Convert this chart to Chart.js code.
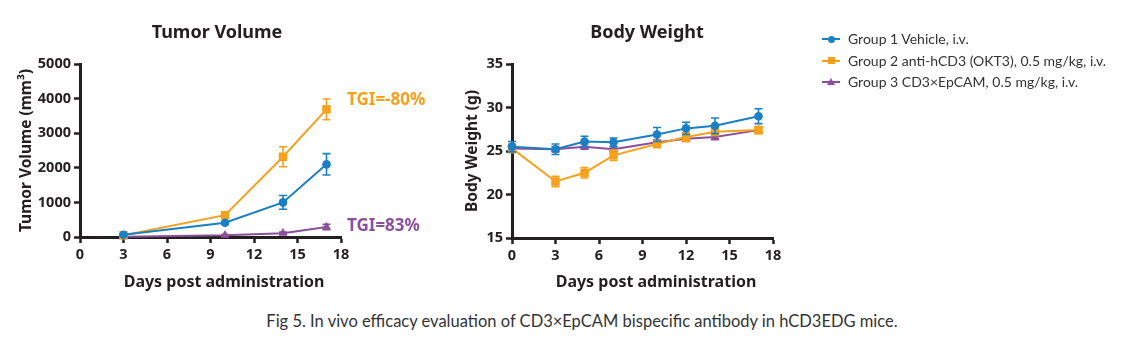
<!DOCTYPE html>
<html>
<head>
<meta charset="utf-8">
<script src="https://cdn.jsdelivr.net/npm/chart.js@4.4.0/dist/chart.umd.min.js"></script>
<style>
  body { margin: 0; background: #fff; }
  #wrap { position: relative; width: 1123px; height: 350px; font-family: "Noto Sans", sans-serif; color: #231f20; }
  canvas { position: absolute; top: 0; }
  .ttl { position: absolute; font-weight: bold; font-size: 18px; transform: translate(-50%, -50%); white-space: nowrap; }
  .xt { position: absolute; font-weight: bold; font-size: 16px; transform: translate(-50%, -50%); white-space: nowrap; }
  .leg { position: absolute; left: 822px; height: 20px; font-family: Lato, sans-serif; font-size: 14px; color: #333; white-space: nowrap; }
  .leg .ln { position: absolute; left: 0; top: 9px; width: 18px; height: 2px; }
  .leg .mk { position: absolute; }
  .leg .tx { position: absolute; left: 26px; top: 0; line-height: 20px; }
  #cap { position: absolute; left: 582px; top: 321px; transform: translate(-50%, -50%); font-family: Lato, sans-serif; font-size: 16.5px; color: #333; white-space: nowrap; }
</style>
</head>
<body>
<div id="wrap">
  <canvas id="tumor" width="440" height="300" style="left:0"></canvas>
  <canvas id="weight" width="360" height="300" style="left:440px"></canvas>
  <div class="ttl" style="left:217px; top:31px">Tumor Volume</div>
  <div class="ttl" style="left:647px; top:31px">Body Weight</div>
  <div class="xt" style="left:224px; top:281px">Days post administration</div>
  <div class="xt" style="left:656px; top:281px">Days post administration</div>
  <div id="legend"></div>
  <div id="cap">Fig 5. In vivo efficacy evaluation of CD3×EpCAM bispecific antibody in hCD3EDG mice.</div>
</div>
<script>
const groupNames = ["Group 1 Vehicle, i.v.", "Group 2 anti-hCD3 (OKT3), 0.5 mg/kg, i.v.", "Group 3 CD3×EpCAM, 0.5 mg/kg, i.v."];
const groupColors = ["#1b7fc4", "#f5a11c", "#8c4f9c"];
const groupShapes = ["circle", "rect", "triangle"];

// tumor volume (mm3)
const tumorDays = [3, 10, 14, 17];
const tumorG1 = [65, 410, 1000, 2100];
const tumorG1Err = [20, 40, 200, 310];
const tumorG2 = [50, 630, 2320, 3690];
const tumorG2Err = [20, 50, 290, 300];
const tumorG3 = [10, 50, 110, 290];
const tumorG3Err = [5, 20, 30, 80];
const tumorTicks = [0, 1000, 2000, 3000, 4000, 5000];
const tgiText = ["TGI=-80%", "TGI=83%"];
const tgiAt = [3960, 320];

// body weight (g)
const weightDays = [0, 3, 5, 7, 10, 12, 14, 17];
const weightG1 = [25.5, 25.2, 26.1, 26.0, 26.9, 27.6, 27.9, 29.0];
const weightG1Err = [0.6, 0.6, 0.6, 0.5, 0.8, 0.7, 0.9, 0.85];
const weightG2 = [25.3, 21.5, 22.5, 24.5, 25.8, 26.6, 27.2, 27.4];
const weightG2Err = [0.5, 0.6, 0.6, 0.6, 0.4, 0.5, 0.4, 0.4];
const weightG3 = [25.3, 25.2, 25.5, 25.2, 26.0, 26.4, 26.6, 27.4];
const weightG3Err = [0.3, 0.3, 0.3, 0.3, 0.3, 0.3, 0.3, 0.3];
const weightTicks = [15, 20, 25, 30, 35];

const dayTicks = [0, 3, 6, 9, 12, 15, 18];
const ink = "#231f20";

const errorBars = {
  id: "errorBars",
  beforeDatasetDraw(chart, args) {
    const ds = chart.data.datasets[args.index];
    if (!ds.errors) return;
    const ctx = chart.ctx;
    const x = chart.scales.x, y = chart.scales.y;
    ctx.save();
    ctx.strokeStyle = ds.borderColor;
    ctx.lineWidth = 1.6;
    ds.data.forEach((p, i) => {
      const e = ds.errors[i];
      const px = x.getPixelForValue(p.x);
      const top = y.getPixelForValue(p.y + e);
      const bot = y.getPixelForValue(p.y - e);
      ctx.beginPath();
      ctx.moveTo(px, top); ctx.lineTo(px, bot);
      ctx.moveTo(px - 4, top); ctx.lineTo(px + 4, top);
      ctx.moveTo(px - 4, bot); ctx.lineTo(px + 4, bot);
      ctx.stroke();
    });
    ctx.restore();
  }
};

const tgiLabels = {
  id: "tgiLabels",
  afterDraw(chart, args, opts) {
    if (!opts.items) return;
    const ctx = chart.ctx;
    ctx.save();
    ctx.font = "bold 17px 'Noto Sans'";
    ctx.textBaseline = "middle";
    ctx.textAlign = "left";
    opts.items.forEach(it => {
      ctx.fillStyle = it.color;
      ctx.fillText(it.text, chart.chartArea.right + 6, chart.scales.y.getPixelForValue(it.value));
    });
    ctx.restore();
  }
};

function series(days, vals, errs, g) {
  const radius = { circle: 4.3, rect: 6, triangle: 5.2 }[groupShapes[g]];
  return {
    label: groupNames[g],
    data: days.map((d, i) => ({ x: d, y: vals[i] })),
    errors: errs,
    borderColor: groupColors[g],
    backgroundColor: groupColors[g],
    borderWidth: 2,
    pointStyle: groupShapes[g],
    pointRadius: radius,
    pointBorderWidth: 0,
    pointHoverRadius: radius,
    tension: 0,
    clip: false
  };
}

function axisFont(size) { return { family: "'Noto Sans'", size: size, weight: "bold" }; }

function makeOptions(cfg) {
  return {
    responsive: false,
    animation: false,
    layout: { padding: { left: 0, right: cfg.padRight, top: 64, bottom: 0 } },
    plugins: {
      legend: { display: false },
      tooltip: { enabled: false },
      tgiLabels: { items: cfg.tgi }
    },
    scales: {
      x: {
        type: "linear", min: 0, max: 18,
        afterBuildTicks: s => { s.ticks = dayTicks.map(v => ({ value: v })); },
        afterFit: s => { s.height = cfg.xHeight; },
        ticks: { color: ink, font: axisFont(14.5), padding: 3, callback: v => String(v) },
        grid: { drawOnChartArea: false, drawTicks: true, tickLength: 6, tickWidth: 2.5, tickColor: ink },
        border: { display: true, width: 3, color: ink }
      },
      y: {
        min: cfg.yTicks[0], max: cfg.yTicks[cfg.yTicks.length - 1],
        afterBuildTicks: s => { s.ticks = cfg.yTicks.map(v => ({ value: v })); },
        afterFit: s => { s.width = cfg.yWidth; },
        ticks: { color: ink, font: axisFont(14.5), padding: cfg.yPad, callback: v => String(v) },
        grid: { drawOnChartArea: false, drawTicks: true, tickLength: 6, tickWidth: 2.5, tickColor: ink },
        border: { display: true, width: 3, color: ink },
        title: { display: true, text: cfg.yTitle, color: ink, font: axisFont(15.5), padding: { top: cfg.yTitlePad, bottom: 0 } }
      }
    }
  };
}

new Chart(document.getElementById("tumor"), {
  type: "line",
  data: {
    datasets: [
      series(tumorDays, tumorG1, tumorG1Err, 0),
      series(tumorDays, tumorG2, tumorG2Err, 1),
      series(tumorDays, tumorG3, tumorG3Err, 2)
    ]
  },
  options: makeOptions({
    padRight: 99, xHeight: 63, yWidth: 80, yPad: 3, yTitlePad: 17,
    yTicks: tumorTicks, yTitle: "Tumor Volume (mm³)",
    tgi: [
      { text: tgiText[0], color: groupColors[1], value: tgiAt[0] },
      { text: tgiText[1], color: groupColors[2], value: tgiAt[1] }
    ]
  }),
  plugins: [errorBars, tgiLabels]
});

new Chart(document.getElementById("weight"), {
  type: "line",
  data: {
    datasets: [
      series(weightDays, weightG1, weightG1Err, 0),
      series(weightDays, weightG2, weightG2Err, 1),
      series(weightDays, weightG3, weightG3Err, 2)
    ]
  },
  options: makeOptions({
    padRight: 27, xHeight: 62, yWidth: 72, yPad: 3, yTitlePad: 23,
    yTicks: weightTicks, yTitle: "Body Weight (g)",
    tgi: null
  }),
  plugins: [errorBars]
});

// shared legend
const legend = document.getElementById("legend");
const rowTops = [29, 50.5, 71.5];
groupNames.forEach((name, g) => {
  const row = document.createElement("div");
  row.className = "leg";
  row.style.top = rowTops[g] + "px";
  let mk;
  if (groupShapes[g] === "circle") {
    mk = `<div class="mk" style="left:5.5px;top:6.5px;width:7px;height:7px;border-radius:50%;background:${groupColors[g]}"></div>`;
  } else if (groupShapes[g] === "rect") {
    mk = `<div class="mk" style="left:5.5px;top:6.5px;width:7px;height:7px;background:${groupColors[g]}"></div>`;
  } else {
    mk = `<div class="mk" style="left:4.5px;top:6px;width:0;height:0;border-left:4.5px solid transparent;border-right:4.5px solid transparent;border-bottom:7px solid ${groupColors[g]}"></div>`;
  }
  row.innerHTML = `<div class="ln" style="background:${groupColors[g]}"></div>${mk}<div class="tx">${name}</div>`;
  legend.appendChild(row);
});
</script>
</body>
</html>
